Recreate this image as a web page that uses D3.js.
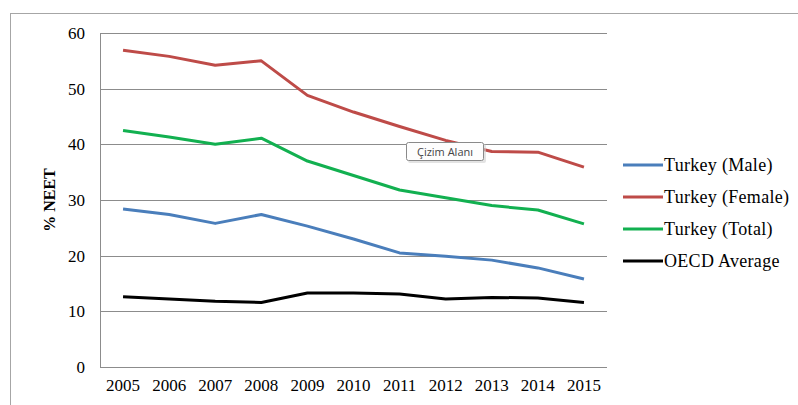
<!DOCTYPE html>
<html>
<head>
<meta charset="utf-8">
<script src="https://cdn.jsdelivr.net/npm/d3@7"></script>
<style>
  html, body { margin: 0; padding: 0; background: #fff; }
  svg { display: block; }
</style>
</head>
<body>
<svg id="chart" width="798" height="405"></svg>
<script>
// NEET rates (% of youth not in employment, education or training)
const years = ["2005","2006","2007","2008","2009","2010","2011","2012","2013","2014","2015"];
const male   = [28.4, 27.4, 25.8, 27.4, 25.3, 23.0, 20.5, 19.9, 19.2, 17.8, 15.8];
const female = [56.9, 55.8, 54.2, 55.0, 48.8, 45.8, 43.2, 40.7, 38.7, 38.6, 35.9];
const total  = [42.5, 41.3, 40.0, 41.1, 37.0, 34.4, 31.8, 30.4, 29.0, 28.2, 25.7];
const oecd   = [12.6, 12.2, 11.8, 11.6, 13.3, 13.3, 13.1, 12.2, 12.5, 12.4, 11.6];
const yTicks = [0, 10, 20, 30, 40, 50, 60];

const seriesNames  = ["Turkey (Male)", "Turkey (Female)", "Turkey (Total)", "OECD Average"];
const seriesValues = [male, female, total, oecd];
const seriesColors = ["#4a7ebb", "#be4b48", "#12b050", "#000000"];

const SERIF = '"Liberation Serif", "Times New Roman", serif';
const svg = d3.select("#chart");

// outer chart frame
svg.append("rect")
  .attr("x", 10.5).attr("y", 13.5)
  .attr("width", 800).attr("height", 400)
  .attr("fill", "none").attr("stroke", "#a6a6a6").attr("stroke-width", 1);

const plot = { left: 100, right: 607, top: 33, bottom: 367 };

const x = d3.scaleBand().domain(years).range([plot.left, plot.right]);
const y = d3.scaleLinear().domain([0, 60]).range([plot.bottom, plot.top]);

// gridlines
svg.append("g")
  .selectAll("line").data(yTicks).join("line")
  .attr("x1", plot.left).attr("x2", plot.right)
  .attr("y1", d => Math.round(y(d)) + 0.5).attr("y2", d => Math.round(y(d)) + 0.5)
  .attr("stroke", "#8c8c8c").attr("stroke-width", 1);

// left axis line
svg.append("line")
  .attr("x1", plot.left + 0.5).attr("x2", plot.left + 0.5)
  .attr("y1", plot.top).attr("y2", plot.bottom)
  .attr("stroke", "#8c8c8c");

// y axis labels
const yAxis = d3.axisLeft(y).tickValues(yTicks).tickSize(0).tickPadding(15);
svg.append("g")
  .attr("transform", `translate(${plot.left},0)`)
  .call(yAxis)
  .call(g => g.select(".domain").remove())
  .selectAll("text")
  .style("font-family", SERIF)
  .style("font-size", "17px").attr("fill", "#000");

// x axis labels
const xAxis = d3.axisBottom(x).tickSize(0).tickPadding(12);
svg.append("g")
  .attr("transform", `translate(0,${plot.bottom})`)
  .call(xAxis)
  .call(g => g.select(".domain").remove())
  .selectAll("text")
  .style("font-family", SERIF)
  .style("font-size", "17px").attr("fill", "#000");

// y axis title
svg.append("text")
  .attr("transform", "translate(55,200) rotate(-90)")
  .attr("text-anchor", "middle")
  .style("font-family", SERIF)
  .style("font-size", "16px").style("font-weight", "bold")
  .text("% NEET");

// series lines
const line = d3.line()
  .x((d, i) => x(years[i]) + x.bandwidth() / 2)
  .y(d => y(d));

svg.append("g")
  .selectAll("path").data(seriesValues).join("path")
  .attr("d", d => line(d))
  .attr("fill", "none")
  .attr("stroke", (d, i) => seriesColors[i])
  .attr("stroke-width", 3)
  .attr("stroke-linejoin", "round");

// legend
const legend = svg.append("g").attr("transform", "translate(623,165)");
seriesNames.forEach((name, i) => {
  const row = legend.append("g").attr("transform", `translate(0,${i * 32})`);
  row.append("line")
    .attr("x1", 0).attr("x2", 40).attr("y1", 0).attr("y2", 0)
    .attr("stroke", seriesColors[i]).attr("stroke-width", 3);
  row.append("text")
    .attr("x", 41).attr("y", 6)
    .style("font-family", SERIF)
    .style("font-size", "18px").style("letter-spacing", "0.3px")
    .attr("fill", "#000")
    .text(name);
});

// plot-area hover label
const tip = svg.append("g").attr("transform", "translate(406,142)");
tip.append("rect")
  .attr("x", 2).attr("y", 2).attr("width", 78).attr("height", 19)
  .attr("rx", 2).attr("fill", "#d0d0d0").attr("opacity", 0.6);
tip.append("rect")
  .attr("x", 0.5).attr("y", 0.5).attr("width", 77).attr("height", 18)
  .attr("rx", 2).attr("fill", "#fdfdfd").attr("stroke", "#8a8a8a");
tip.append("text")
  .attr("x", 39).attr("y", 13.5)
  .attr("text-anchor", "middle")
  .style("font-family", '"Open Sans", "DejaVu Sans", sans-serif').style("font-size", "11px")
  .attr("fill", "#444")
  .text("Çizim Alanı");
</script>
</body>
</html>
